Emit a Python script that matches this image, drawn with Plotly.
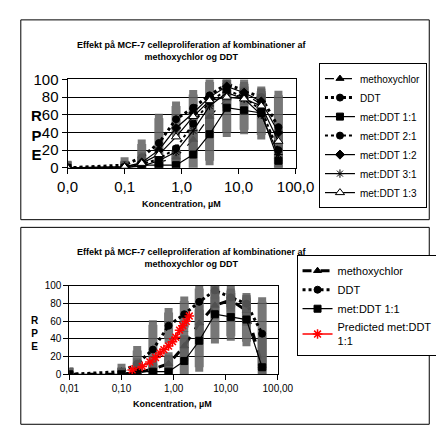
import plotly.graph_objects as go

# concentrations (µM)
conc = [0.01, 0.1, 0.2, 0.4, 0.8, 1.6, 3.1, 6.2, 12.5, 25, 50]
methoxychlor = [0, 0, 2, 6, 12, 32, 58, 78, 84, 72, 10]
methoxychlor_err = [2, 3, 4, 6, 8, 12, 15, 10, 8, 12, 30]
ddt = [0, 3, 12, 28, 55, 68, 82, 95, 87, 80, 46]
ddt_err = [3, 4, 15, 28, 15, 15, 15, 5, 8, 5, 36]
met_ddt_11 = [0, 0, 3, 3, 3, 15, 38, 68, 65, 62, 8]
met_ddt_11_err = [2, 2, 10, 6, 14, 24, 30, 28, 22, 25, 3]
met_ddt_21 = [0, 1, 4, 10, 22, 50, 75, 88, 80, 65, 20]
met_ddt_12 = [0, 1, 6, 20, 45, 62, 80, 92, 85, 75, 40]
met_ddt_31 = [0, 0, 2, 8, 18, 42, 70, 85, 78, 60, 15]
met_ddt_13 = [0, 1, 5, 15, 35, 58, 76, 80, 78, 70, 30]

pred_conc = [0.16, 0.25, 0.35, 0.45, 0.55, 0.65, 0.8, 0.95, 1.1, 1.3, 1.5, 1.75, 2.0]
pred_11 = [5, 9, 14, 19, 24, 28, 32, 37, 42, 50, 55, 60, 66]

top_ticks = ["0,0", "0,1", "1,0", "10,0", "100,0"]
bot_ticks = ["0,01", "0,10", "1,00", "10,00", "100,00"]
tick_vals = [0.01, 0.1, 1, 10, 100]

FONT = "Liberation Sans, Arial, sans-serif"
GRAY = "rgba(95,95,95,0.85)"

fig = go.Figure()


def add(name, x, y, err, symbol, dash, xa, ya, legend, color="black", mcolor="black", lw=1.2):
    fig.add_trace(go.Scatter(
        x=x, y=y, name=name, xaxis=xa, yaxis=ya, legend=legend,
        mode="lines+markers",
        line=dict(color=color, width=lw, dash=dash),
        marker=dict(symbol=symbol, size=7, color=mcolor,
                    line=dict(color=mcolor, width=1)),
        error_y=dict(type="data", array=err, visible=err is not None,
                     color=GRAY, thickness=9, width=4),
    ))


# top chart
add("methoxychlor", conc, methoxychlor, methoxychlor_err, "triangle-up", "dash", "x", "y", "legend")
add("DDT", conc, ddt, ddt_err, "circle", "dot", "x", "y", "legend", lw=3)
add("met:DDT 1:1", conc, met_ddt_11, met_ddt_11_err, "square", "solid", "x", "y", "legend")
add("met:DDT 2:1", conc, met_ddt_21, None, "circle", "dot", "x", "y", "legend", lw=2)
add("met:DDT 1:2", conc, met_ddt_12, None, "diamond", "solid", "x", "y", "legend")
add("met:DDT 3:1", conc, met_ddt_31, None, "asterisk-open", "solid", "x", "y", "legend")
fig.add_trace(go.Scatter(
    x=conc, y=met_ddt_13, name="met:DDT 1:3", xaxis="x", yaxis="y", legend="legend",
    mode="lines+markers", line=dict(color="black", width=1.2),
    marker=dict(symbol="triangle-up", size=8, color="white", line=dict(color="black", width=1)),
))

# bottom chart
add("methoxychlor", conc, methoxychlor, methoxychlor_err, "triangle-up", "dash", "x2", "y2", "legend2", lw=3)
add("DDT", conc, ddt, ddt_err, "circle", "dot", "x2", "y2", "legend2", lw=3)
add("met:DDT 1:1", conc, met_ddt_11, met_ddt_11_err, "square", "solid", "x2", "y2", "legend2")
fig.add_trace(go.Scatter(
    x=pred_conc, y=pred_11, name="Predicted met:DDT<br>1:1", xaxis="x2", yaxis="y2",
    legend="legend2", mode="lines+markers", line=dict(color="red", width=1.5),
    marker=dict(symbol="asterisk-open", size=8, color="red", line=dict(color="red", width=1.5)),
))

axis_common = dict(type="log", range=[-2, 2], showgrid=False, showline=True,
                   linecolor="black", ticks="outside", tickcolor="black", tickvals=tick_vals,
                   zeroline=False)
yaxis_common = dict(range=[0, 100], dtick=20, showgrid=True, gridcolor="black", gridwidth=0.6,
                    showline=True, linecolor="black", ticks="outside", tickcolor="black",
                    zeroline=False, mirror=True)

fig.update_layout(
    width=444, height=431, margin=dict(l=0, r=0, t=0, b=0),
    paper_bgcolor="white", plot_bgcolor="white",
    font=dict(family=FONT, color="black"),
    xaxis=dict(axis_common, domain=[53 / 444, 297 / 444], anchor="y", ticktext=top_ticks,
               tickfont=dict(size=15), mirror=True),
    yaxis=dict(yaxis_common, domain=[1 - 157 / 431, 1 - 65 / 431], anchor="x",
               tickfont=dict(size=15)),
    xaxis2=dict(axis_common, domain=[55 / 444, 278 / 444], anchor="y2", ticktext=bot_ticks,
                tickfont=dict(size=10), mirror=True),
    yaxis2=dict(yaxis_common, domain=[1 - 372 / 431, 1 - 280 / 431], anchor="x2",
                tickfont=dict(size=10)),
    legend=dict(x=322 / 444, y=1 - 48 / 431, xanchor="left", yanchor="top",
                bordercolor="black", borderwidth=1, font=dict(size=10), tracegroupgap=0),
    legend2=dict(x=298 / 444, y=1 - 248 / 431, xanchor="left", yanchor="top",
                 bordercolor="black", borderwidth=1, font=dict(size=11)),
    showlegend=True,
)

for ytop, ybot in [(3, 211), (219, 424)]:
    fig.add_shape(type="rect", xref="paper", yref="paper", x0=3 / 444, x1=440 / 444,
                  y0=1 - ybot / 431, y1=1 - ytop / 431, line=dict(color="black", width=1))

title = "<b>Effekt på MCF-7 celleproliferation af kombinationer af<br>methoxychlor og DDT</b>"
for yt, xt in [(22, 186), (237, 186)]:
    fig.add_annotation(text=title, xref="paper", yref="paper", x=xt / 444, y=1 - yt / 431,
                       showarrow=False, font=dict(size=9), yanchor="top", align="center")
for yx, xx, yl, xl, fs in [(195, 175, 123, 12, 15), (410, 165, 330, 12, 10)]:
    fig.add_annotation(text="<b>Koncentration, µM</b>", xref="paper", yref="paper",
                       x=xx / 444, y=1 - yx / 431, showarrow=False, font=dict(size=9))
    fig.add_annotation(text="<b>R<br>P<br>E</b>", xref="paper", yref="paper",
                       x=xl / 444, y=1 - yl / 431, showarrow=False, font=dict(size=fs),
                       yanchor="middle")

fig.write_html("out.html")
